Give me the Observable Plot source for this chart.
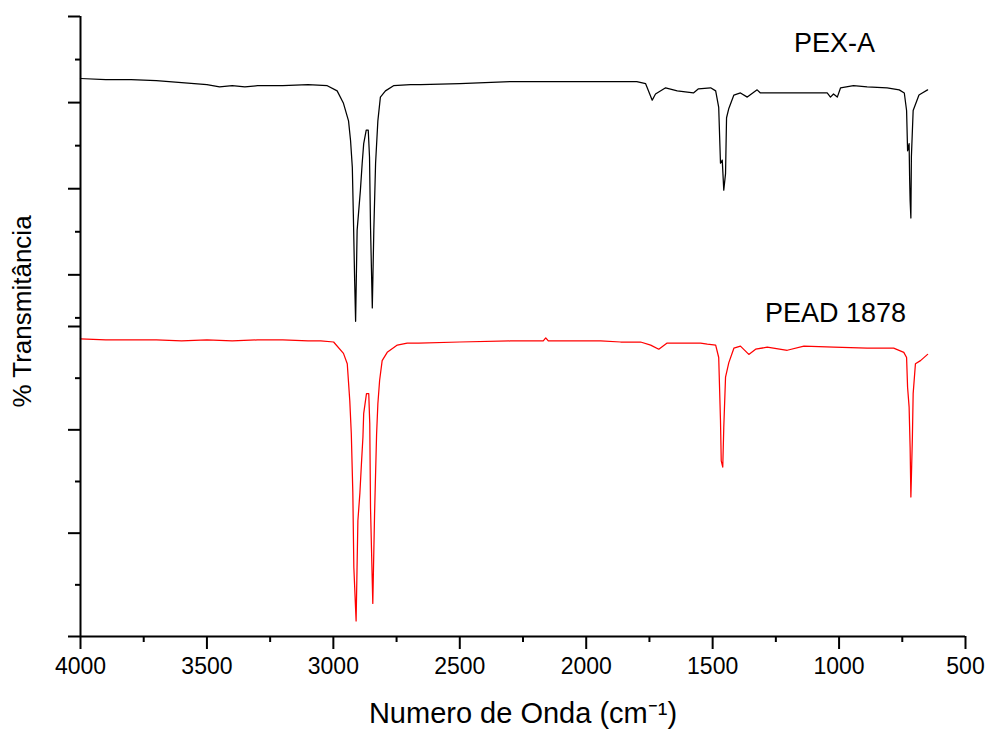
<!DOCTYPE html>
<html>
<head>
<meta charset="utf-8">
<script src="https://cdn.jsdelivr.net/npm/d3@7"></script>
<script src="https://cdn.jsdelivr.net/npm/@observablehq/plot@0.6"></script>
<style>
  html, body { margin: 0; padding: 0; background: #fff; }
  #chart svg { font-family: "Liberation Sans", Arial, sans-serif; }
  #chart g[aria-label="x-axis label"] text { font-size: 29px; }
  #chart g[aria-label="y-axis label"] text { font-size: 26px; }
</style>
</head>
<body>
<div id="chart"></div>
<script>
// X ticks (wavenumber, cm^-1)
const xMajorTicks = [4000, 3500, 3000, 2500, 2000, 1500, 1000, 500];
const xMinorTicks = [3750, 3250, 2750, 2250, 1750, 1250, 750];
// Y ticks (offset transmittance units; no labels shown)
const yMajorTicks = [0, 10, 20, 30, 35, 43.333, 51.667, 60];
const yMinorTicks = [5, 15, 25, 30.833, 39.167, 47.5, 55.833];

// PEX-A spectrum (black)
const pexWavenumber = [4000,3900,3800,3700,3600,3500,3450,3400,3350,3300,3200,3100,3024,2985,2960,2940,2932,2925,2921,2916,2912,2906,2893,2886,2880,2870,2862,2857,2853,2846,2840,2833,2824,2814,2794,2762,2695,2655,2500,2300,2100,1943,1800,1765,1739,1726,1686,1640,1576,1556,1508,1488,1476,1469,1462,1456,1449,1445,1436,1416,1390,1363,1324,1311,1220,1152,1047,1034,1022,1007,994,943,889,810,762,742,733,729,723,721,719,716,714,707,684,671,650];
const pexTransmittance = [54.0,53.9,53.9,53.8,53.6,53.4,53.2,53.3,53.2,53.3,53.3,53.4,53.3,52.8,51.6,49.9,48.0,45.4,40.9,34.7,30.5,39.3,43.2,45.8,47.7,49.0,49.0,46.4,39.6,31.8,39.3,45.8,49.9,52.2,52.8,53.3,53.4,53.4,53.5,53.7,53.7,53.7,53.7,53.5,51.9,52.5,53.1,52.8,52.6,53.0,53.1,52.8,51.2,45.8,46.1,43.2,44.8,50.2,51.1,52.4,52.6,52.2,52.9,52.6,52.6,52.6,52.6,52.2,52.5,52.2,53.1,53.3,53.2,53.1,52.9,52.6,50.9,47.0,47.7,44.4,42.2,40.5,46.4,50.9,52.4,52.6,52.9];

// PEAD 1878 spectrum (red)
const peadWavenumber = [4000,3900,3800,3700,3600,3500,3400,3300,3200,3100,3050,2999,2960,2945,2935,2929,2923,2919,2910,2903,2895,2889,2883,2880,2869,2860,2856,2853,2844,2837,2829,2824,2817,2807,2787,2747,2708,2662,2500,2300,2170,2160,2150,2000,1943,1864,1785,1745,1713,1680,1640,1548,1521,1488,1476,1469,1466,1460,1456,1449,1436,1416,1390,1357,1330,1284,1205,1139,1021,889,784,744,733,729,723,719,716,710,707,698,678,650];
const peadTransmittance = [28.8,28.7,28.7,28.7,28.6,28.7,28.6,28.7,28.7,28.6,28.6,28.5,27.4,26.4,22.8,19.6,13.9,6.7,1.5,11.2,13.9,16.7,19.3,21.6,23.5,23.5,20.6,12.4,3.2,11.9,19.6,22.5,24.8,26.7,27.5,28.2,28.4,28.4,28.5,28.6,28.6,28.9,28.6,28.6,28.6,28.5,28.5,28.2,27.8,28.4,28.4,28.4,28.3,28.2,27.0,20.9,17.0,16.4,20.2,25.1,26.5,27.9,28.1,27.3,27.8,28.0,27.7,28.1,28.0,27.9,27.9,27.5,27.0,24.1,22.2,18.3,13.5,19.3,23.5,26.4,26.7,27.3];

// Series labels
const seriesNames = ["PEX-A", "PEAD 1878"];
const labelWavenumber = [1018, 1014];
const labelTransmittance = [57.4, 31.3];

const pex = pexWavenumber.map((w, i) => ({w, t: pexTransmittance[i]}));
const pead = peadWavenumber.map((w, i) => ({w, t: peadTransmittance[i]}));
const labels = seriesNames.map((name, i) => ({name, w: labelWavenumber[i], t: labelTransmittance[i]}));

const chart = Plot.plot({
  width: 990,
  height: 734,
  marginLeft: 80,
  marginRight: 25,
  marginTop: 16,
  marginBottom: 98,
  style: {fontFamily: "Liberation Sans, Arial, sans-serif", background: "#fff", overflow: "visible"},
  x: {domain: [4000, 500], label: "Numero de Onda (cm\u207B\u00B9)", labelArrow: "none"},
  y: {domain: [0, 60], label: "% Transmitância", labelArrow: "none"},
  marks: [
    Plot.line(pex, {x: "w", y: "t", stroke: "#000", strokeWidth: 1.25}),
    Plot.line(pead, {x: "w", y: "t", stroke: "#ff0000", strokeWidth: 1.25}),
    Plot.text(labels, {x: "w", y: "t", text: "name", fontSize: 27, fill: "#000", textAnchor: "middle"}),
    Plot.axisX({ticks: xMinorTicks, tickSize: 6, strokeWidth: 2, tickFormat: () => "", label: null}),
    Plot.axisX({ticks: xMajorTicks, tickSize: 13, tickPadding: 8, strokeWidth: 2, fontSize: 23, tickFormat: d => String(d),
      label: "Numero de Onda (cm\u207B\u00B9)", labelArrow: "none", labelAnchor: "center", labelOffset: 86}),
    Plot.axisY({ticks: yMinorTicks, tickSize: 5, strokeWidth: 2, tickFormat: () => "", label: null}),
    Plot.axisY({ticks: yMajorTicks, tickSize: 12, strokeWidth: 2, tickFormat: () => "",
      label: "% Transmitância", labelArrow: "none", labelAnchor: "center", labelOffset: 68}),
    Plot.ruleY([0], {stroke: "#000", strokeWidth: 2}),
    Plot.ruleX([4000], {stroke: "#000", strokeWidth: 2})
  ]
});
// nudge the y-axis title up slightly, as in the reference
const yLabel = chart.querySelector('g[aria-label="y-axis label"]');
if (yLabel) {
  const t = yLabel.getAttribute("transform") || "";
  yLabel.setAttribute("transform", (t + " translate(0,-15)").trim());
}
document.getElementById("chart").appendChild(chart);
</script>
</body>
</html>
